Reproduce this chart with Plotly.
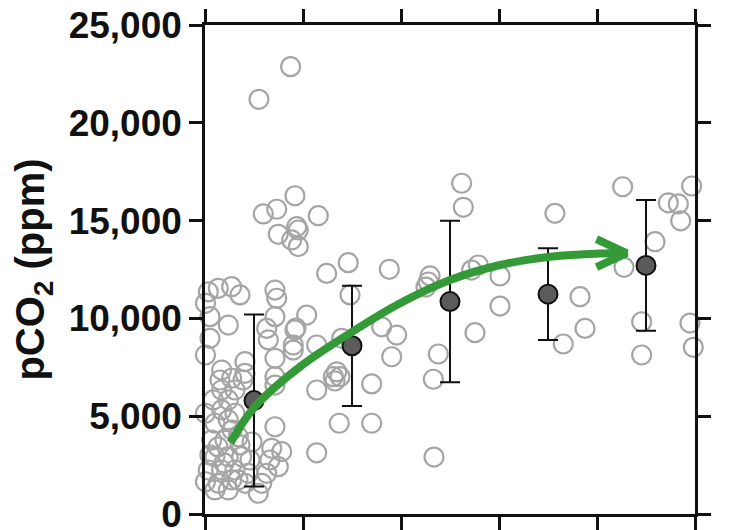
import plotly.graph_objects as go

# Individual pCO2 observations (x: position along the five-bin axis, y: ppm)
obs_x = [
    0.551, 0.874, 0.918, 0.595, 0.732, 0.748, 0.936, 0.952, 0.885, 0.952,
    0.034, 0.136, 0.272, 0.357, 0.714, 0.732, 0.005, 0.051, 0.238, -0.034,
    0.051, 0.714, 0.630, 0.918, 0.646, 0.901, 0.005, 0.714, 0.408, 0.170,
    0.408, -0.034, 0.153, 0.272, 0.388, 0.714, 0.714, 0.170, 0.306, 0.085,
    0.238, 0.005, 0.170, 0.306, 0.102, 0.238, -0.068, 0.714, 0.068, 0.204,
    0.340, -0.051, 0.102, 0.238, 0.374, 0.681, 0.783, 0.663, 0.748, 0.034,
    0.170, 0.306, 0.442, 0.005, 0.136, 0.272, 0.408, 0.579, 0.102, 0.238,
    0.544, 0.630, 0.357, 0.459, 0.133, 0.276, 0.480, 0.050, 0.194, 0.337,
    1.156, 1.462, 1.242, 1.881, 1.480, 1.038, 0.929, 1.140, 1.395, 1.803,
    1.956, 1.905, 0.901, 1.344, 1.309, 1.378, 1.327, 1.140, 1.701, 1.370,
    1.701, 1.140,
    2.619, 2.636, 2.296, 2.279, 2.255, 2.721, 2.789, 3.010, 3.010, 2.755,
    2.381, 2.330, 2.337,
    3.571, 3.827, 3.878, 3.656,
    4.262, 4.592, 4.276, 4.456, 4.456, 4.728, 4.830, 4.854, 4.966, 4.949,
    5.010, 4.983,
]
obs_y = [
    21200, 22870, 16270, 15340, 15580, 14300, 14690, 14520, 14010, 13670,
    11360, 11540, 11620, 11200, 11450, 11030, 10770, 10090, 9660, 9410,
    8980, 10090, 9490, 9410, 8900, 8640, 8130, 7960, 7790, 7360,
    7190, 7020, 6850, 6940, 6850, 7020, 6590, 6340, 6340, 5830,
    5830, 5150, 5320, 5150, 4640, 4810, 4460, 4460, 3780, 3780,
    3950, 2760, 2930, 2930, 2930, 3360, 3190, 2760, 2420, 2250,
    2250, 2250, 2080, 1650, 1570, 1740, 1570, 1570, 1230, 1230,
    1060, 2080, 3530, 2760, 3430, 4290, 3680, 3020, 2610, 1740,
    15250, 12850, 12300, 12510, 11200, 10170, 9510, 8640, 8980, 9570,
    9150, 8040, 8380, 7270, 7020, 7020, 6800, 6340, 6650, 4640,
    4640, 3130,
    16910, 15680, 12170, 11860, 11600, 12470, 12730, 12170, 10630, 9270,
    8180, 6890, 2910,
    15370, 11110, 9490, 8690,
    16730, 13920, 12610, 9830, 8130, 15910, 15850, 14990, 16770, 9760,
    9760, 8520,
]

# Bin means with their standard deviations
mean_x = [0.5, 1.5, 2.5, 3.5, 4.5]
mean_y = [5800, 8600, 10860, 11240, 12710]
mean_sd = [4400, 3075, 4130, 2345, 3340]

# Trend curve, drawn as a green arrow
trend_x = [0.26, 0.51, 0.97, 1.48, 1.99, 2.50, 3.01, 3.52, 4.03, 4.25]
trend_y = [3650, 5490, 7530, 9240, 10770, 11960, 12730, 13150, 13320, 13335]

y_ticks = [0, 5000, 10000, 15000, 20000, 25000]
y_tick_text = ["0", "5,000", "10,000", "15,000", "20,000", "25,000"]
x_ticks = [0, 1, 2, 3, 4, 5]

W, H = 733, 530
MARGIN = dict(l=205, r=38, t=25, b=16)
X_RANGE = [0, 5]
Y_RANGE = [0, 25000]
plot_w = W - MARGIN["l"] - MARGIN["r"]
plot_h = H - MARGIN["t"] - MARGIN["b"]
x_per_px = (X_RANGE[1] - X_RANGE[0]) / plot_w
y_per_px = (Y_RANGE[1] - Y_RANGE[0]) / plot_h

GREEN = "#349a37"
FONT = "Liberation Sans, Arial, Helvetica, sans-serif"

# Open chevron head placed just past the end of the trend curve
tip_x = trend_x[-1] + 5 * x_per_px
tip_y = trend_y[-1]
back_px, half_px = 30, 14
head_x = [tip_x - back_px * x_per_px, tip_x, tip_x - back_px * x_per_px]
head_y = [tip_y + half_px * y_per_px, tip_y, tip_y - half_px * y_per_px]

fig = go.Figure()

fig.add_trace(go.Scatter(
    x=obs_x, y=obs_y, mode="markers",
    marker=dict(symbol="circle-open", size=19, color="#a5a5a5",
                line=dict(width=2.2, color="#a5a5a5")),
    cliponaxis=False, hoverinfo="skip", showlegend=False,
))

fig.add_trace(go.Scatter(
    x=mean_x, y=mean_y, mode="markers",
    marker=dict(symbol="circle", size=19, color="#5b5b5b",
                line=dict(width=2, color="#111111")),
    error_y=dict(type="data", array=mean_sd, visible=True,
                 color="#111111", thickness=2, width=10),
    cliponaxis=False, showlegend=False,
))

fig.add_trace(go.Scatter(
    x=trend_x, y=trend_y, mode="lines",
    line=dict(color=GREEN, width=8, shape="spline", smoothing=1.0),
    cliponaxis=False, hoverinfo="skip", showlegend=False,
))

fig.add_trace(go.Scatter(
    x=head_x, y=head_y, mode="lines",
    line=dict(color=GREEN, width=8),
    cliponaxis=False, hoverinfo="skip", showlegend=False,
))

axis_common = dict(
    showgrid=False, zeroline=False, automargin=False,
    showline=True, linecolor="#111111", linewidth=2.5,
    mirror="ticks", ticks="outside", ticklen=13, tickwidth=2.5,
    tickcolor="#111111",
)

fig.update_xaxes(
    range=X_RANGE, tickvals=x_ticks, showticklabels=False, **axis_common,
)
fig.update_yaxes(
    range=Y_RANGE, tickvals=y_ticks, ticktext=y_tick_text,
    ticklabeloverflow="allow",
    tickfont=dict(family=FONT, size=37, color="#111111", weight="bold"),
    title=dict(text="pCO<sub>2</sub> (ppm)", standoff=12,
               font=dict(family=FONT, size=40, color="#111111", weight="bold")),
    **axis_common,
)

fig.update_layout(
    width=W, height=H, margin=MARGIN,
    paper_bgcolor="white", plot_bgcolor="white",
    showlegend=False,
)

fig.write_html("out.html")
